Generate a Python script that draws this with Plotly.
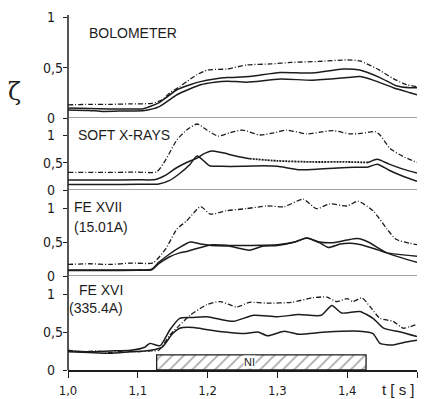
import plotly.graph_objects as go

# ---------------- data ----------------
# Panel 1: BOLOMETER
bolo_dd_t = [1.00, 1.03, 1.06, 1.09, 1.12, 1.135, 1.146, 1.16, 1.17, 1.185, 1.20, 1.228, 1.256, 1.29, 1.32, 1.36, 1.40, 1.418, 1.442, 1.466, 1.485, 1.50]
bolo_dd_v = [0.13, 0.135, 0.135, 0.14, 0.145, 0.18, 0.25, 0.31, 0.36, 0.43, 0.475, 0.485, 0.525, 0.535, 0.55, 0.56, 0.575, 0.565, 0.49, 0.39, 0.33, 0.31]
bolo_a_t = [1.00, 1.03, 1.06, 1.09, 1.107, 1.13, 1.156, 1.175, 1.19, 1.21, 1.228, 1.26, 1.304, 1.35, 1.394, 1.418, 1.447, 1.47, 1.49, 1.50]
bolo_a_v = [0.10, 0.095, 0.09, 0.09, 0.09, 0.15, 0.28, 0.33, 0.36, 0.385, 0.40, 0.41, 0.45, 0.445, 0.485, 0.475, 0.40, 0.32, 0.30, 0.30]
bolo_b_t = [1.00, 1.03, 1.05, 1.08, 1.11, 1.13, 1.156, 1.175, 1.19, 1.21, 1.228, 1.256, 1.304, 1.35, 1.40, 1.418, 1.437, 1.466, 1.49, 1.50]
bolo_b_v = [0.08, 0.075, 0.065, 0.07, 0.075, 0.11, 0.23, 0.29, 0.33, 0.355, 0.365, 0.355, 0.385, 0.375, 0.40, 0.41, 0.375, 0.30, 0.25, 0.23]

# Panel 2: SOFT X-RAYS
sx_dd_t = [1.00, 1.05, 1.10, 1.127, 1.14, 1.156, 1.17, 1.185, 1.199, 1.215, 1.232, 1.25, 1.275, 1.295, 1.313, 1.342, 1.36, 1.38, 1.404, 1.42, 1.44, 1.447, 1.461, 1.48, 1.50]
sx_dd_v = [0.32, 0.32, 0.325, 0.33, 0.55, 0.91, 1.09, 1.20, 1.09, 0.98, 1.04, 1.09, 1.00, 1.04, 1.09, 1.02, 1.05, 1.08, 1.02, 1.03, 1.06, 1.00, 0.76, 0.61, 0.50]
sx_a_t = [1.00, 1.05, 1.10, 1.125, 1.14, 1.155, 1.17, 1.185, 1.195, 1.206, 1.22, 1.24, 1.26, 1.30, 1.35, 1.40, 1.43, 1.443, 1.46, 1.48, 1.50]
sx_a_v = [0.18, 0.18, 0.185, 0.19, 0.27, 0.40, 0.50, 0.58, 0.66, 0.71, 0.68, 0.62, 0.57, 0.53, 0.51, 0.51, 0.50, 0.56, 0.47, 0.38, 0.31]
sx_b_t = [1.00, 1.05, 1.10, 1.13, 1.145, 1.16, 1.175, 1.185, 1.203, 1.22, 1.25, 1.28, 1.30, 1.33, 1.36, 1.40, 1.43, 1.443, 1.46, 1.48, 1.50]
sx_b_v = [0.10, 0.10, 0.105, 0.11, 0.17, 0.30, 0.47, 0.62, 0.44, 0.43, 0.43, 0.44, 0.43, 0.37, 0.38, 0.41, 0.42, 0.47, 0.36, 0.25, 0.16]

# Panel 3: FE XVII (15.01 A)
f17_dd_t = [1.00, 1.03, 1.06, 1.09, 1.122, 1.14, 1.156, 1.17, 1.19, 1.204, 1.227, 1.255, 1.285, 1.31, 1.337, 1.356, 1.375, 1.40, 1.415, 1.437, 1.457, 1.47, 1.49, 1.50]
f17_dd_v = [0.17, 0.18, 0.17, 0.19, 0.195, 0.40, 0.69, 0.81, 1.02, 0.91, 0.96, 0.99, 1.03, 1.02, 1.13, 0.99, 1.06, 1.03, 1.10, 0.96, 0.69, 0.54, 0.48, 0.46]
f17_a_t = [1.00, 1.05, 1.10, 1.12, 1.13, 1.145, 1.16, 1.175, 1.19, 1.205, 1.23, 1.26, 1.28, 1.30, 1.325, 1.342, 1.36, 1.373, 1.39, 1.405, 1.42, 1.445, 1.457, 1.50]
f17_a_v = [0.09, 0.09, 0.09, 0.10, 0.20, 0.32, 0.42, 0.50, 0.47, 0.45, 0.44, 0.38, 0.44, 0.45, 0.50, 0.56, 0.49, 0.42, 0.47, 0.48, 0.46, 0.38, 0.34, 0.29]
f17_b_t = [1.00, 1.05, 1.10, 1.12, 1.13, 1.145, 1.16, 1.17, 1.183, 1.207, 1.23, 1.26, 1.30, 1.325, 1.342, 1.36, 1.38, 1.40, 1.415, 1.43, 1.457, 1.50]
f17_b_v = [0.08, 0.08, 0.085, 0.09, 0.18, 0.28, 0.34, 0.36, 0.40, 0.46, 0.45, 0.45, 0.46, 0.50, 0.56, 0.50, 0.49, 0.53, 0.55, 0.50, 0.34, 0.20]

# Panel 4: FE XVI (335.4 A)
f16_dd_t = [1.00, 1.02, 1.04, 1.06, 1.08, 1.10, 1.115, 1.13, 1.146, 1.16, 1.175, 1.199, 1.218, 1.242, 1.26, 1.285, 1.32, 1.35, 1.371, 1.385, 1.40, 1.408, 1.421, 1.433, 1.447, 1.466, 1.48, 1.49, 1.50]
f16_dd_v = [0.26, 0.24, 0.25, 0.23, 0.25, 0.24, 0.25, 0.26, 0.46, 0.59, 0.72, 0.86, 0.90, 0.83, 0.89, 0.88, 0.89, 0.95, 0.96, 0.90, 0.94, 0.90, 0.95, 0.83, 0.68, 0.64, 0.55, 0.57, 0.60]
f16_a_t = [1.00, 1.03, 1.06, 1.09, 1.11, 1.117, 1.132, 1.146, 1.16, 1.175, 1.199, 1.237, 1.266, 1.30, 1.33, 1.363, 1.378, 1.392, 1.418, 1.437, 1.452, 1.476, 1.50]
f16_a_v = [0.25, 0.24, 0.25, 0.26, 0.30, 0.35, 0.32, 0.53, 0.68, 0.69, 0.70, 0.64, 0.72, 0.70, 0.73, 0.72, 0.85, 0.75, 0.77, 0.68, 0.55, 0.50, 0.44]
f16_b_t = [1.00, 1.03, 1.06, 1.09, 1.11, 1.125, 1.135, 1.15, 1.16, 1.18, 1.20, 1.225, 1.254, 1.272, 1.286, 1.31, 1.33, 1.37, 1.418, 1.437, 1.447, 1.466, 1.48, 1.50]
f16_b_v = [0.24, 0.23, 0.22, 0.24, 0.25, 0.27, 0.30, 0.48, 0.55, 0.56, 0.53, 0.50, 0.48, 0.50, 0.45, 0.51, 0.47, 0.50, 0.51, 0.48, 0.35, 0.33, 0.36, 0.39]

# NI injection bar
ni_start = 1.127
ni_end = 1.427
ni_height = 0.20

panel_labels = [["BOLOMETER"], ["SOFT X-RAYS"], ["FE XVII", "(15.01A)"], ["FE XVI", "(335.4A)"]]
y_tick_vals = [0, 0.5, 1]
y_tick_text = ["0", "0,5", "1"]
x_tick_vals = [1.0, 1.1, 1.2, 1.3, 1.4, 1.5]
x_tick_text = ["1,0", "1,1", "1,2", "1,3", "1,4", ""]

# ---------------- layout geometry ----------------
# The page body has an 8px margin, so the figure is drawn 8px in from the
# top-left corner of the window; size it so that it fits without scrollbars.
OFF = 8
WIN_W, WIN_H = 430, 399
W, H = WIN_W - OFF, WIN_H - OFF
PLOT_L, PLOT_R, PLOT_T, PLOT_B = 68, 417, 15, 370   # window pixels of plot area
ML, MR = PLOT_L - OFF, WIN_W - PLOT_R
MT, MB = PLOT_T - OFF, WIN_H - PLOT_B
PH = PLOT_B - PLOT_T
PW = PLOT_R - PLOT_L

def pyp(py):
    return (PLOT_B - py) / PH

def pxp(px):
    return (px - PLOT_L) / PW

# (zero pixel, top pixel, pixels per unit) in window pixels
panels_px = [(118, 15, 101), (190, 120, 55), (276, 193, 68), (370, 279, 76)]

INK = "#1c1c1c"
FONT = "Liberation Sans, Arial, sans-serif"
NARROW = "DejaVu Sans Condensed, Liberation Sans Narrow, Liberation Sans, sans-serif"
DD = "5px,2px,1px,2px"

def yname(k):
    return "y" if k == 0 else f"y{k+1}"

fig = go.Figure()

def line(t, v, k, dash="solid", width=1.5):
    fig.add_trace(go.Scatter(x=t, y=v, mode="lines", xaxis="x", yaxis=yname(k),
                             line=dict(color=INK, width=width, dash=dash, shape="spline", smoothing=0.6),
                             showlegend=False, hoverinfo="skip"))

# panel 1
line(bolo_dd_t, bolo_dd_v, 0, DD, 1.3)
line(bolo_a_t, bolo_a_v, 0)
line(bolo_b_t, bolo_b_v, 0)
# panel 2
line(sx_dd_t, sx_dd_v, 1, DD, 1.3)
i0 = sx_a_t.index(1.26)
i1 = sx_a_t.index(1.43)
line(sx_a_t[:i0 + 1], sx_a_v[:i0 + 1], 1)
line(sx_a_t[i0:i1 + 1], sx_a_v[i0:i1 + 1], 1, "2px,1px", 1.8)
line(sx_a_t[i1:], sx_a_v[i1:], 1)
line(sx_b_t, sx_b_v, 1)
# panel 3
line(f17_dd_t, f17_dd_v, 2, DD, 1.3)
line(f17_a_t, f17_a_v, 2)
line(f17_b_t, f17_b_v, 2)
# panel 4
line(f16_dd_t, f16_dd_v, 3, DD, 1.3)
line(f16_a_t, f16_a_v, 3)
line(f16_b_t, f16_b_v, 3)

# NI hatched bar
fig.add_trace(go.Bar(x=[(ni_start + ni_end) / 2], y=[ni_height], width=[ni_end - ni_start], base=0,
                     xaxis="x", yaxis="y4", showlegend=False, hoverinfo="skip",
                     marker=dict(color="white", line=dict(color=INK, width=1.3),
                                 pattern=dict(shape="/", fgcolor="#555", bgcolor="white", size=8, solidity=0.22))))

layout = dict(
    width=W, height=H,
    margin=dict(l=ML, r=MR, t=MT, b=MB),
    paper_bgcolor="white", plot_bgcolor="rgba(0,0,0,0)",
    font=dict(family=FONT, color=INK, size=14),
    showlegend=False,
    xaxis=dict(range=[1.0, 1.5], anchor="y4", domain=[0, 1], showgrid=False, zeroline=False,
               showline=True, linecolor=INK, linewidth=1.5, automargin=False,
               ticks="outside", ticklen=6, tickwidth=1.3, tickcolor=INK,
               tickvals=x_tick_vals, ticktext=x_tick_text, ticklabelstandoff=2,
               tickfont=dict(family=NARROW, size=13, color=INK)),
)
shapes = [dict(type="line", xref="paper", yref="paper", x0=0, x1=0, y0=0, y1=1,
               line=dict(color=INK, width=1.5))]
annotations = []
for k, (z, top, unit) in enumerate(panels_px):
    key = "yaxis" if k == 0 else f"yaxis{k+1}"
    layout[key] = dict(domain=[pyp(z), pyp(top)], range=[0, (z - top) / unit], anchor="x",
                       showgrid=False, zeroline=False, showline=False, showticklabels=False,
                       automargin=False,
                       ticks="outside", ticklen=4, tickwidth=1.3, tickcolor=INK, tickvals=y_tick_vals)
    if k < 3:
        shapes.append(dict(type="line", xref="paper", yref=yname(k), x0=0, x1=1, y0=0, y1=0,
                           line=dict(color="#444", width=1.1)))
    for v, txt in zip(y_tick_vals, y_tick_text):
        wide = len(txt) > 1
        annotations.append(dict(xref="paper", yref=yname(k), x=pxp(64 if wide else 46), y=v, text=txt,
                                xanchor="right" if wide else "left", yanchor="middle", showarrow=False,
                                borderpad=0,
                                font=dict(family=NARROW, size=14, color=INK)))

label_pos = [[(88, 33)], [(77, 135)], [(73, 207), (73, 227)], [(78, 290), (68, 308)]]
for labs, poss in zip(panel_labels, label_pos):
    for txt, (px, py) in zip(labs, poss):
        annotations.append(dict(xref="paper", yref="paper", x=pxp(px), y=pyp(py), text=txt,
                                xanchor="left", yanchor="middle", showarrow=False, borderpad=0,
                                font=dict(family=FONT, size=14, color=INK)))

annotations.append(dict(xref="x", yref="y4", x=(ni_start + ni_end) / 2 - 0.017, y=ni_height / 2, text="NI",
                        showarrow=False, font=dict(family=FONT, size=11, color=INK),
                        bgcolor="white", borderpad=0))
annotations.append(dict(xref="paper", yref="paper", x=pxp(398), y=pyp(389), text="t [ s ]",
                        xanchor="center", yanchor="middle", showarrow=False, borderpad=0,
                        font=dict(family=FONT, size=15, color=INK)))
annotations.append(dict(xref="paper", yref="paper", x=pxp(14), y=pyp(92), text="ζ",
                        xanchor="center", yanchor="middle", showarrow=False, borderpad=0,
                        font=dict(family="DejaVu Serif, serif", size=24, color=INK)))

layout["shapes"] = shapes
layout["annotations"] = annotations
fig.update_layout(**layout)
fig.write_html("out.html")
